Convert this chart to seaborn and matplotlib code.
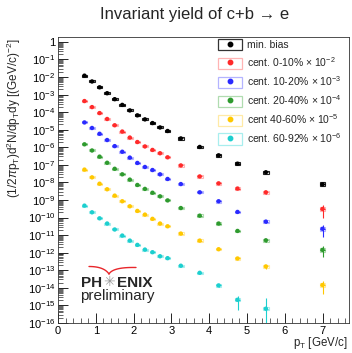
import numpy as np
import pandas as pd
import matplotlib
matplotlib.use("Agg")
import matplotlib.pyplot as plt
import seaborn as sns
from matplotlib.patches import Rectangle, Patch
from matplotlib.lines import Line2D
from matplotlib.legend_handler import HandlerTuple
from matplotlib.ticker import MultipleLocator, LogLocator, FuncFormatter, NullFormatter, FixedLocator

# ---------------- data ----------------
pt = [0.7, 0.9, 1.1, 1.3, 1.5, 1.7, 1.9, 2.1, 2.3, 2.5, 2.7, 2.9, 3.25, 3.75, 4.25, 4.75, 5.5, 7.0]

minbias = [1.2e-2, 5.6e-3, 2.6e-3, 1.2e-3, 5.5e-4, 2.6e-4, 1.26e-4, 6.6e-5, 3.9e-5, 2.4e-5,
           1.35e-5, 8.5e-6, 3.2e-6, 1.05e-6, 3.5e-7, 1.17e-7, 3.8e-8, 7.8e-9]
cent0_10 = [4.3e-2, 1.95e-2, 8.9e-3, 4.1e-3, 1.8e-3, 7.9e-4, 3.6e-4, 2.0e-4, 1.12e-4, 7.1e-5,
            4.6e-5, 2.7e-5, 9.3e-6, 2.2e-6, 8.9e-7, 4.5e-7, 2.75e-7, 3.1e-8]
cent10_20 = [2.6e-2, 1.26e-2, 5.9e-3, 2.6e-3, 1.17e-3, 5.6e-4, 2.6e-4, 1.29e-4, 7.6e-5, 5.1e-5,
             2.9e-5, 1.58e-5, 8.1e-6, 2.75e-6, 8.5e-7, 2.1e-7, 5.9e-8, 2.3e-8]
cent20_40 = [1.48e-2, 6.6e-3, 2.95e-3, 1.32e-3, 6.0e-4, 2.9e-4, 1.45e-4, 7.2e-5, 4.3e-5, 2.6e-5,
             1.62e-5, 9.5e-6, 3.5e-6, 1.29e-6, 4.6e-7, 1.74e-7, 5.1e-8, 1.45e-8]
cent40_60 = [5.4e-3, 1.95e-3, 8.5e-4, 4.1e-4, 1.78e-4, 8.5e-5, 4.4e-5, 2.4e-5, 1.48e-5, 8.5e-6,
             4.6e-6, 3.2e-6, 1.23e-6, 4.9e-7, 1.58e-7, 4.7e-8, 1.66e-8, 1.45e-9]
cent60_92 = [4.8e-4, 2.0e-4, 9.1e-5, 4.6e-5, 2.1e-5, 9.5e-6, 4.9e-6, 2.8e-6, 1.51e-6, 1.07e-6,
             6.3e-7, 4.9e-7, 1.82e-7, 7.2e-8, 1.38e-8, 2.1e-9, 6.5e-10]

# relative statistical errors
stat_minbias = [0.02] * 16 + [0.05, 0.12]
stat_cent0_10 = [0.03] * 16 + [0.15, 0.7]
stat_cent10_20 = [0.03] * 16 + [0.15, 0.65]
stat_cent20_40 = [0.03] * 16 + [0.2, 0.6]
stat_cent40_60 = [0.03] * 16 + [0.25, 0.7]
stat_cent60_92 = [0.03] * 14 + [0.15, 0.75, 3.3]

# relative systematic errors (boxes)
sys_rel = [0.14] * 12 + [0.16, 0.17, 0.18, 0.2, 0.25, 0.3]

series_names = ["min. bias", "cent. 0-10%", "cent. 10-20%", "cent. 20-40%", "cent 40-60%", "cent. 60-92%"]
scale_exp = [0, -2, -3, -4, -5, -6]
series_values = [minbias, cent0_10, cent10_20, cent20_40, cent40_60, cent60_92]
series_stat = [stat_minbias, stat_cent0_10, stat_cent10_20, stat_cent20_40, stat_cent40_60, stat_cent60_92]
colors = ["#000000", "#ff2a2a", "#2a2aff", "#2e9a2e", "#ffc800", "#1ccfcf"]
box_colors = ["#222222", "#ffb4b4", "#b4b4ff", "#b0dcb0", "#ffeaa6", "#a8eeee"]

# ---------------- build table ----------------
rows = []
for name, vals, stat, e in zip(series_names, series_values, series_stat, scale_exp):
    for i, v in enumerate(vals):
        rows.append({"pT": pt[i], "y": v * 10.0 ** e, "series": name,
                     "stat": stat[i] * v * 10.0 ** e, "sys": sys_rel[i]})
df = pd.DataFrame(rows)

# ---------------- figure ----------------
sns.set_theme(style="white")
plt.rcParams["font.family"] = ["Liberation Sans", "DejaVu Sans"]
plt.rcParams["mathtext.fontset"] = "custom"
plt.rcParams["mathtext.rm"] = "Liberation Sans"
plt.rcParams["mathtext.it"] = "Liberation Sans:italic"
plt.rcParams["mathtext.bf"] = "Liberation Sans:bold"

W, H = 352, 353
fig = plt.figure(figsize=(W / 100, H / 100), dpi=100)
ax = fig.add_axes([58 / W, 1 - 323 / H, 291 / W, 286 / H])
ax.set_yscale("log")

palette = dict(zip(series_names, colors))

# systematic boxes
for name, bc in zip(series_names, box_colors):
    sub = df[df.series == name]
    for _, r in sub.iterrows():
        lo = r.y / (1 + r.sys)
        hi = r.y * (1 + r.sys)
        ax.add_patch(Rectangle((r.pT - 0.075, lo), 0.15, hi - lo, fill=False,
                               edgecolor=bc, linewidth=0.8, zorder=2))

# stat error bars
for name, c in zip(series_names, colors):
    sub = df[df.series == name]
    ax.errorbar(sub.pT, sub.y, yerr=sub.stat, xerr=0.06, fmt="none",
                ecolor=c, elinewidth=0.8, capsize=0, zorder=2.5)

sns.scatterplot(data=df, x="pT", y="y", hue="series", palette=palette, s=10,
                edgecolor="none", linewidth=0, legend=False, ax=ax, zorder=3)

ax.set_xlim(0, 7.7)
ax.set_ylim(1e-16, 1.9)

ax.xaxis.set_major_locator(MultipleLocator(1))
ax.xaxis.set_minor_locator(MultipleLocator(0.2))
ax.yaxis.set_major_locator(FixedLocator([10.0 ** (-k) for k in range(0, 17)]))
ax.yaxis.set_minor_locator(LogLocator(base=10, subs=np.arange(2, 10), numticks=200))
ax.yaxis.set_minor_formatter(NullFormatter())


def yfmt(v, p):
    k = int(round(np.log10(v)))
    return "1" if k == 0 else r"$10^{%d}$" % k


ax.yaxis.set_major_formatter(FuncFormatter(yfmt))
ax.tick_params(axis="both", which="major", direction="in", length=7, width=0.6,
               labelsize=8, pad=2, colors="black")
ax.tick_params(axis="both", which="minor", direction="in", length=3.5, width=0.5)
ax.tick_params(axis="both", which="both", left=True, bottom=True, top=False, right=False)
for s in ax.spines.values():
    s.set_color("#333333")
    s.set_linewidth(0.6)

ax.set_xlabel("")
ax.set_ylabel("")


def fx(px):
    return px / W


def fy(py):
    return 1 - py / H


fig.text(fx(348), fy(346), r"p$_\mathrm{T}$ [GeV/c]", fontsize=8.3, ha="right", va="baseline")
fig.text(fx(14), fy(38), r"(1/2$\pi$p$_\mathrm{T}$)d$^2$N/dp$_\mathrm{T}$dy [(GeV/c)$^{-2}$]",
         fontsize=8.5, rotation=90, ha="center", va="top")

fig.text(fx(195), fy(15), "Invariant yield of c+b \u2192 e", ha="center", va="center",
         fontsize=12)

# legend
handles = []
labels = []
for name, c, bc, e in zip(series_names, colors, box_colors, scale_exp):
    box = Patch(facecolor="white", edgecolor=bc if e != 0 else "#333333", linewidth=0.9)
    dot = Line2D([], [], marker="o", color=c, ls="none", markersize=3.2)
    handles.append((box, dot))
    labels.append(name if e == 0 else name + r" $\times$ 10$^{%d}$" % e)
leg = ax.legend(handles, labels, handler_map={tuple: HandlerTuple(ndivide=1, pad=0)},
                loc="upper left", bbox_to_anchor=(218 / W, 1 - 39 / H),
                bbox_transform=fig.transFigure, frameon=False, fontsize=7.5,
                handlelength=2.3, handleheight=1.3, labelspacing=0.47,
                handletextpad=0.5, borderpad=0, borderaxespad=0)

# PHENIX preliminary logo
fig.text(fx(81), fy(287), "PH", fontsize=11, fontweight="bold", ha="left", va="baseline")
fig.text(fx(109.5), fy(282), "\u2733", fontsize=10, color="#9a9a9a", ha="center", va="center",
         family="DejaVu Sans")
fig.text(fx(117), fy(287), "ENIX", fontsize=11, fontweight="bold", ha="left", va="baseline")
fig.text(fx(80.5), fy(300), "preliminary", fontsize=11, ha="left", va="baseline")

t = np.linspace(0, 1, 30)


def bez(p0, p1, p2):
    xs = (1 - t) ** 2 * p0[0] + 2 * (1 - t) * t * p1[0] + t ** 2 * p2[0]
    ys = (1 - t) ** 2 * p0[1] + 2 * (1 - t) * t * p1[1] + t ** 2 * p2[1]
    return fx(xs), fy(ys)


for p0, p1, p2 in [((89, 266.5), (104, 266.5), (109, 274)), ((109, 274), (113, 267), (136, 267.5))]:
    xs, ys = bez(p0, p1, p2)
    fig.add_artist(Line2D(xs, ys, color="#e8262b", linewidth=1.0, transform=fig.transFigure))

fig.savefig("out.png", dpi=100)
